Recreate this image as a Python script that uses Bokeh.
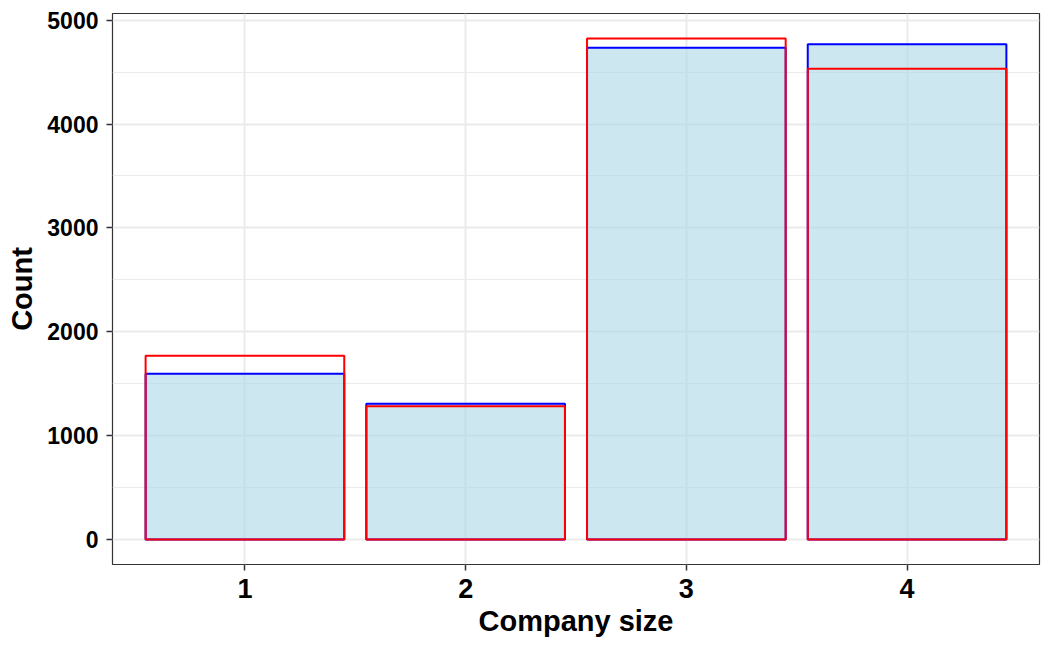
from bokeh.plotting import figure
from bokeh.models import Range1d, FixedTicker, ColumnDataSource
from bokeh.embed import file_html
from bokeh.resources import INLINE

# Data
company_size = [1, 2, 3, 4]
count_blue = [1595, 1307, 4735, 4767]
count_red = [1768, 1282, 4823, 4531]
y_ticks = [0, 1000, 2000, 3000, 4000, 5000]

ymax = max(max(count_blue), max(count_red))

p = figure(width=1050, height=645, output_backend="svg", toolbar_location=None,
           x_range=Range1d(0.4, 4.6),
           y_range=Range1d(-0.05 * ymax, 1.05 * ymax),
           min_border_left=112, min_border_right=11, min_border_top=13, min_border_bottom=81)

src_b = ColumnDataSource(dict(x=company_size, top=count_blue))
src_r = ColumnDataSource(dict(x=company_size, top=count_red))

p.vbar(x="x", top="top", bottom=0, width=0.9, source=src_b,
       fill_color="lightblue", fill_alpha=0.62, line_color="blue", line_width=2)
p.vbar(x="x", top="top", bottom=0, width=0.9, source=src_r,
       fill_color=None, line_color="red", line_width=2)

p.background_fill_color = "white"
p.border_fill_color = "white"
p.outline_line_color = "#333333"
p.outline_line_width = 1.2

p.xaxis.ticker = FixedTicker(ticks=company_size)
p.yaxis.ticker = FixedTicker(ticks=y_ticks, minor_ticks=[500, 1500, 2500, 3500, 4500])

for ax in (p.xaxis, p.yaxis):
    ax.axis_line_color = None
    ax.major_tick_line_color = "#333333"
    ax.major_tick_line_width = 1.5
    ax.major_tick_in = 0
    ax.major_tick_out = 6
    ax.minor_tick_line_color = None
    ax.major_label_text_font = "Liberation Sans"
    ax.major_label_text_font_style = "bold"
    ax.major_label_text_color = "black"
    ax.axis_label_text_font = "Liberation Sans"
    ax.axis_label_text_font_style = "bold"
    ax.axis_label_text_color = "black"
    ax.axis_label_text_font_size = "29px"

p.xaxis.axis_label = "Company size"
p.yaxis.axis_label = "Count"
p.xaxis.major_label_text_font_size = "27px"
p.yaxis.major_label_text_font_size = "23px"
p.xaxis.major_label_standoff = 8
p.yaxis.major_label_standoff = 8
p.xaxis.axis_label_standoff = 4
p.yaxis.axis_label_standoff = 6

p.xgrid.grid_line_color = "#EBEBEB"
p.xgrid.grid_line_width = 2
p.ygrid.grid_line_color = "#EBEBEB"
p.ygrid.grid_line_width = 2
p.ygrid.minor_grid_line_color = "#EBEBEB"
p.ygrid.minor_grid_line_width = 1

open("out.html", "w").write(file_html(p, INLINE))
